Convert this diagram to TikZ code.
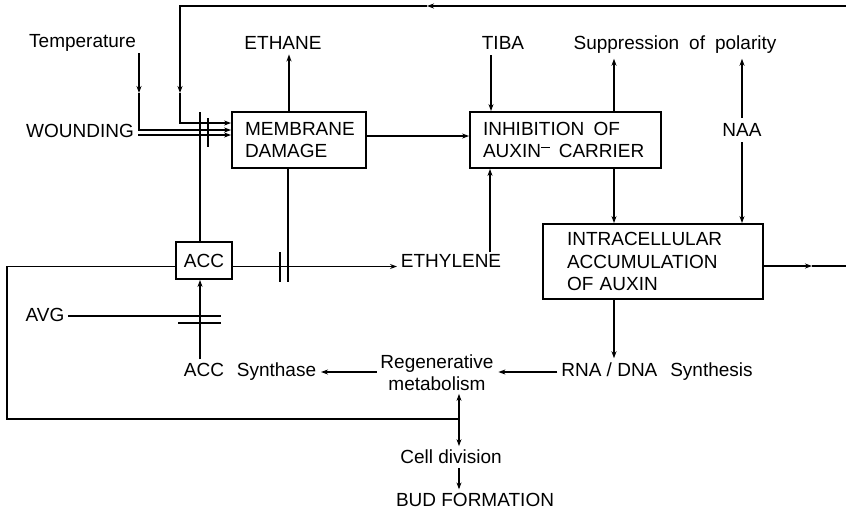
\documentclass[tikz,border=0pt]{standalone}
\usepackage{fontspec}
\setmainfont{Liberation Sans}
\usetikzlibrary{arrows.meta}
\begin{document}
\begin{tikzpicture}[x=1pt,y=-1pt, line width=1.8pt, >={Stealth[length=7pt,width=5pt]},
 lbl/.style={inner sep=0pt, font=\fontsize{19}{22}\selectfont},
 box/.style={draw, line width=1.8pt, align=left, inner sep=0pt, font=\fontsize{19}{22.5}\selectfont}]
\useasboundingbox (0,0) rectangle (846,515);
% boxes
\node[box, minimum width=134pt, minimum height=56pt, text width=108pt] (mem) at (299,140) {MEMBRANE\\DAMAGE};
\node[box, minimum width=191pt, minimum height=56pt, text width=165pt] (inh) at (565.5,140) {INHIBITION\hspace{0.15em} OF\\AUXIN\raisebox{0.5em}{\rule{0.45em}{1.3pt}}\hspace{0.15em} CARRIER};
\node[box, minimum width=56pt, minimum height=37pt] (acc) at (204,260.5) {ACC};
\node[box, minimum width=220pt, minimum height=75pt, text width=172pt] (intra) at (653,261.5) {INTRACELLULAR\\ACCUMULATION\\OF AUXIN};
% labels
\node[lbl] (temp) at (82.5,43) {Temperature};
\node[lbl] (wound) at (80,131) {WOUNDING};
\node[lbl] (ethane) at (283,43) {ETHANE};
\node[lbl] (tiba) at (503,43) {TIBA};
\node[lbl] (supp) at (675,45) {Suppression\hspace{0.25em} of\hspace{0.25em} polarity};
\node[lbl] (naa) at (742,130) {NAA};
\node[lbl] (ethylene) at (451,261) {ETHYLENE};
\node[lbl] (avg) at (45,315) {AVG};
\node[lbl] (accs) at (250,372) {ACC\hspace{0.4em} Synthase};
\node[lbl, align=center] (regen) at (437,373) {Regenerative\\metabolism};
\node[lbl] (rna) at (657,372) {RNA / DNA\hspace{0.4em} Synthesis};
\node[lbl] (cell) at (451,457) {Cell division};
\node[lbl] (bud) at (475,500) {BUD FORMATION};
% coordinates
\coordinate (tr) at (846,6);
\coordinate (tm) at (427,6);
\coordinate (tl) at (180,6);
\coordinate (tlm) at (180,93);
\coordinate (tk) at (180,123);
\coordinate (tempd) at (139,53);
\coordinate (tempm) at (139,93);
\coordinate (woundr) at (138,135);
\coordinate (accup) at (200,112);
\coordinate (bar1a) at (208,118);
\coordinate (bar1b) at (208,147);
\coordinate (m1) at ([xshift=-10pt]mem.north);
\coordinate (m2) at ([xshift=-11pt]mem.south);
\coordinate (m2b) at (288,282);
\coordinate (bar2a) at (280,252);
\coordinate (bar2b) at (280,282);
\coordinate (m3) at ([yshift=4pt]mem.east);
\coordinate (a1) at ([yshift=-6pt]acc.east);
\coordinate (a2) at ([yshift=-6pt]acc.west);
\coordinate (t1) at (491,55);
\coordinate (i1) at ([xshift=48.5pt]inh.north);
\coordinate (i2) at ([xshift=48.5pt]inh.south);
\coordinate (e1) at (490,252);
\coordinate (r1) at ([xshift=-39pt]intra.south);
\coordinate (ir) at ([yshift=-4.5pt]intra.east);
\coordinate (irm) at (812,266);
\coordinate (ire) at (846,266);
\coordinate (as0) at ([xshift=-4pt]acc.south);
\coordinate (av1) at (221,316);
\coordinate (av2a) at (178,323);
\coordinate (av2b) at (221,323);
\coordinate (lb) at (7,419);
\coordinate (junc) at (459,419);
% connectors
\draw[->] (tr) -- (tm);
\draw[->] (tm) -- (tl) -- (tlm);
\draw[->] (tlm) -- (tk) -- ([yshift=17pt]mem.west);
\draw[->] (tempd) -- (tempm);
\draw[->] (tempm) |- ([yshift=10pt]mem.west);
\draw[->] (woundr) -- ([yshift=5pt]mem.west);
\draw ([xshift=-4pt]acc.north) -- (accup);
\draw (bar1a) -- (bar1b);
\draw[->, shorten >=4pt] (m1) -- (m1 |- ethane.south);
\draw (m2) -- (m2b);
\draw (bar2a) -- (bar2b);
\draw[->] (m3) -- (m3 -| inh.west);
\draw[->, shorten >=3pt] (a1) -- (a1 -| ethylene.west);
\draw[->] (t1) -- (t1 |- inh.north);
\draw[->, shorten >=4pt] (i1) -- (i1 |- supp.south);
\draw[->, shorten >=4pt, shorten <=5pt] (naa.north) -- (naa.north |- supp.south);
\draw[->, shorten <=5pt] (naa.south) -- (naa.south |- intra.north);
\draw[->] (i2) -- (i2 |- intra.north);
\draw[->] (e1) -- (e1 |- inh.south);
\draw[->, shorten >=4pt] (r1) -- (r1 |- rna.north);
\draw[->] (ir) -- (irm);
\draw (irm) -- (ire);
\draw[->, shorten <=3pt, shorten >=4pt] (rna.west) -- (rna.west -| regen.east);
\draw[->, shorten <=3pt, shorten >=4pt] (regen.west |- accs.east) -- (accs.east);
\draw[->, shorten <=3pt] (as0 |- accs.north) -- (as0);
\draw[shorten <=3pt] (avg.east |- av1) -- (av1);
\draw (av2a) -- (av2b);
\draw (a2) -| (lb) -- (junc);
\draw[->, shorten >=2pt] (junc) -- (junc |- regen.south);
\draw[->, shorten >=3pt] (junc) -- (junc |- cell.north);
\draw[->, shorten <=3pt, shorten >=3pt] (junc |- cell.south) -- (junc |- bud.north);
\end{tikzpicture}
\end{document}
